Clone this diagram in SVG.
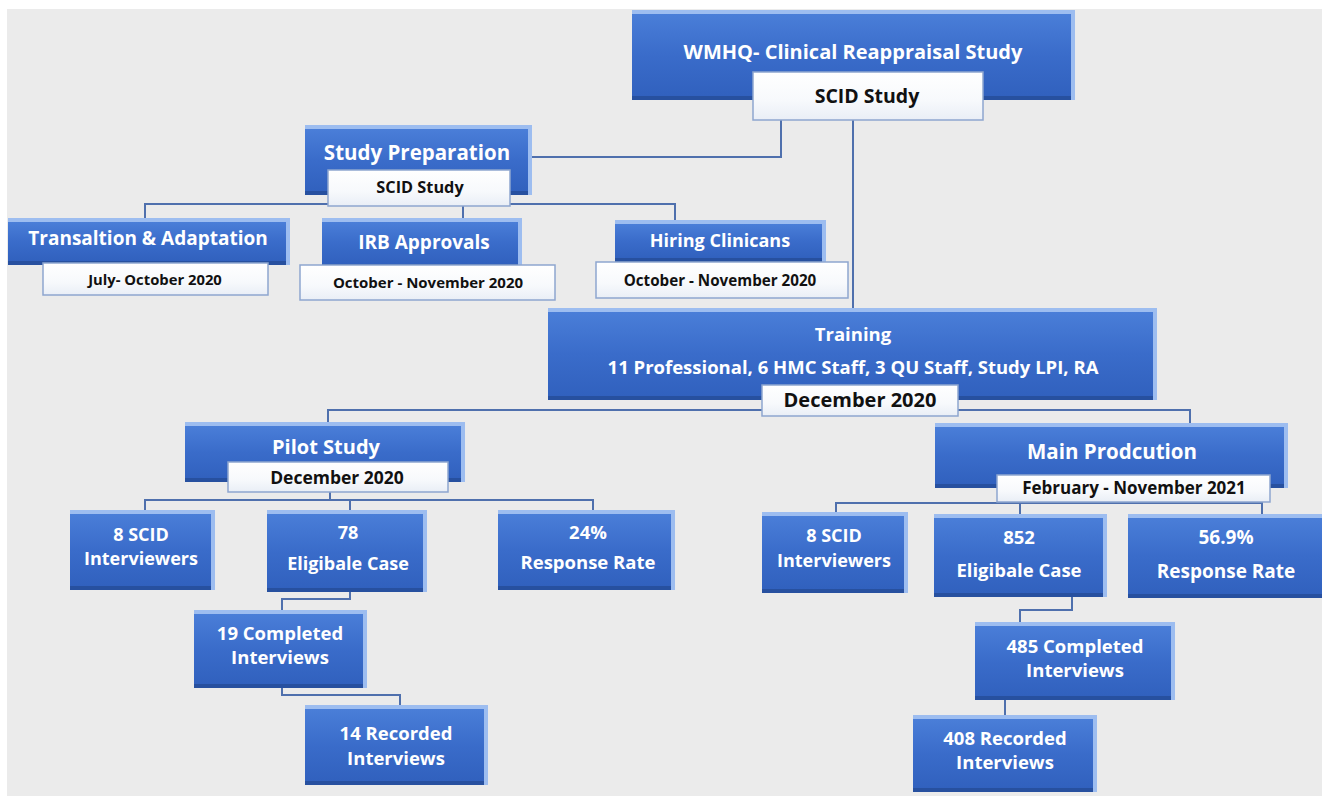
<svg xmlns="http://www.w3.org/2000/svg" width="1322" height="796" viewBox="0 0 1322 796">
<defs>
<linearGradient id="gb" x1="0" y1="0" x2="0" y2="1">
<stop offset="0" stop-color="#4a7ed8"/>
<stop offset="0.5" stop-color="#3a6cca"/>
<stop offset="1" stop-color="#3161be"/>
</linearGradient>
<linearGradient id="gw" x1="0" y1="0" x2="0" y2="1">
<stop offset="0" stop-color="#ffffff"/>
<stop offset="0.6" stop-color="#f7f9fc"/>
<stop offset="1" stop-color="#e9eef6"/>
</linearGradient>
<style>
.lt{fill:#9dbdf0}
.dk{fill:#27509f}
.mn{fill:url(#gb)}
.wb{fill:url(#gw);stroke:#8ea6cf;stroke-width:1.5}
.t{font-family:"Open Sans",Lato,"Liberation Sans",sans-serif;font-weight:700;fill:#ffffff;text-anchor:middle}
.d{font-family:"Open Sans",Lato,"Liberation Sans",sans-serif;font-weight:700;fill:#111111;text-anchor:middle}
.c{fill:none;stroke:#4f70ad;stroke-width:2}
</style>
</defs>
<rect x="0" y="0" width="1322" height="796" fill="#ffffff"/>
<rect x="7" y="9" width="1315" height="787" fill="#ebebeb"/>

<g id="connectors">
<path class="c" d="M532 157 H781 V120"/>
<path class="c" d="M853 120 V308"/>
<path class="c" d="M145 218 V204 H675 V220"/>
<path class="c" d="M463 204 V218"/>
<path class="c" d="M328 422 V410 H1190 V423"/>
<path class="c" d="M145 510 V500 H593 V510"/>
<path class="c" d="M350 500 V510"/>
<path class="c" d="M330 492 V500"/>
<path class="c" d="M350 592 V599 H282 V610"/>
<path class="c" d="M282 688 V695 H400 V705"/>
<path class="c" d="M836 512 V503 H1262 V514"/>
<path class="c" d="M1020 500 V514"/>
<path class="c" d="M1072 597 V610 H1020 V622"/>
<path class="c" d="M1005 700 V715"/>
</g>

<g id="wmhq">
<rect class="lt" x="632" y="10" width="443" height="90"/>
<rect class="dk" x="632" y="14" width="439" height="86"/>
<rect class="mn" x="632" y="14" width="439" height="82"/>
<text class="t" x="853" y="59" font-size="20">WMHQ- Clinical Reappraisal Study</text>
<rect class="wb" x="753" y="72" width="230" height="48"/>
<text class="d" x="867" y="103" font-size="19.5">SCID Study</text>
</g>

<g id="study-preparation">
<rect class="lt" x="305" y="125" width="227" height="70"/>
<rect class="dk" x="305" y="129" width="223" height="66"/>
<rect class="mn" x="305" y="129" width="223" height="62"/>
<text class="t" x="417" y="160" font-size="20.5">Study Preparation</text>
<rect class="wb" x="328" y="170" width="182" height="36"/>
<text class="d" x="420" y="193" font-size="16.3">SCID Study</text>
</g>

<g id="translation">
<rect class="lt" x="8" y="218" width="282" height="47"/>
<rect class="dk" x="8" y="222" width="278" height="43"/>
<rect class="mn" x="8" y="222" width="278" height="39"/>
<text class="t" x="148" y="245" font-size="19">Transaltion &amp; Adaptation</text>
<rect class="wb" x="43" y="263" width="225" height="32"/>
<text class="d" x="155" y="285" font-size="14.8">July- October 2020</text>
</g>

<g id="irb">
<rect class="lt" x="322" y="218" width="200" height="50"/>
<rect class="dk" x="322" y="222" width="196" height="46"/>
<rect class="mn" x="322" y="222" width="196" height="42"/>
<text class="t" x="424" y="249" font-size="19">IRB Approvals</text>
<rect class="wb" x="300" y="265" width="255" height="35"/>
<text class="d" x="428" y="288" font-size="15">October - November 2020</text>
</g>

<g id="hiring">
<rect class="lt" x="615" y="220" width="211" height="42"/>
<rect class="dk" x="615" y="224" width="207" height="38"/>
<rect class="mn" x="615" y="224" width="207" height="34"/>
<text class="t" x="720" y="247" font-size="18">Hiring Clinicans</text>
<rect class="wb" x="596" y="262" width="252" height="36"/>
<text class="d" x="720" y="286" font-size="15.2">October - November 2020</text>
</g>

<g id="training">
<rect class="lt" x="548" y="308" width="609" height="92"/>
<rect class="dk" x="548" y="312" width="605" height="88"/>
<rect class="mn" x="548" y="312" width="605" height="84"/>
<text class="t" x="853" y="341" font-size="18.5">Training</text>
<text class="t" x="853" y="374" font-size="18.5">11 Professional, 6 HMC Staff, 3 QU Staff, Study LPI, RA</text>
<rect class="wb" x="762" y="385" width="196" height="31"/>
<text class="d" x="860" y="407" font-size="20">December 2020</text>
</g>

<g id="pilot-study">
<rect class="lt" x="185" y="422" width="280" height="60"/>
<rect class="dk" x="185" y="426" width="276" height="56"/>
<rect class="mn" x="185" y="426" width="276" height="52"/>
<text class="t" x="326" y="454" font-size="20">Pilot Study</text>
<rect class="wb" x="228" y="462" width="220" height="30"/>
<text class="d" x="337" y="484" font-size="17.5">December 2020</text>
</g>

<g id="main-production">
<rect class="lt" x="935" y="423" width="353" height="65"/>
<rect class="dk" x="935" y="427" width="349" height="61"/>
<rect class="mn" x="935" y="427" width="349" height="57"/>
<text class="t" x="1112" y="459" font-size="20.5">Main Prodcution</text>
<rect class="wb" x="997" y="475" width="273" height="27"/>
<text class="d" x="1134" y="494" font-size="17">February - November 2021</text>
</g>

<g id="pilot-interviewers">
<rect class="lt" x="70" y="510" width="145" height="80"/>
<rect class="dk" x="70" y="514" width="141" height="76"/>
<rect class="mn" x="70" y="514" width="141" height="72"/>
<text class="t" x="141" y="541" font-size="18">8 SCID</text>
<text class="t" x="141" y="565" font-size="18">Interviewers</text>
</g>

<g id="pilot-eligible">
<rect class="lt" x="267" y="510" width="160" height="82"/>
<rect class="dk" x="267" y="514" width="156" height="78"/>
<rect class="mn" x="267" y="514" width="156" height="74"/>
<text class="t" x="348" y="539" font-size="18">78</text>
<text class="t" x="348" y="570" font-size="18">Eligibale Case</text>
</g>

<g id="pilot-response">
<rect class="lt" x="498" y="510" width="177" height="80"/>
<rect class="dk" x="498" y="514" width="173" height="76"/>
<rect class="mn" x="498" y="514" width="173" height="72"/>
<text class="t" x="588" y="539" font-size="18.5">24%</text>
<text class="t" x="588" y="569" font-size="18.5">Response Rate</text>
</g>

<g id="pilot-completed">
<rect class="lt" x="194" y="610" width="173" height="78"/>
<rect class="dk" x="194" y="614" width="169" height="74"/>
<rect class="mn" x="194" y="614" width="169" height="70"/>
<text class="t" x="280" y="640" font-size="18.5">19 Completed</text>
<text class="t" x="280" y="664" font-size="18.5">Interviews</text>
</g>

<g id="pilot-recorded">
<rect class="lt" x="305" y="705" width="183" height="80"/>
<rect class="dk" x="305" y="709" width="179" height="76"/>
<rect class="mn" x="305" y="709" width="179" height="72"/>
<text class="t" x="396" y="740" font-size="18.5">14 Recorded</text>
<text class="t" x="396" y="765" font-size="18.5">Interviews</text>
</g>

<g id="main-interviewers">
<rect class="lt" x="762" y="512" width="146" height="81"/>
<rect class="dk" x="762" y="516" width="142" height="77"/>
<rect class="mn" x="762" y="516" width="142" height="73"/>
<text class="t" x="834" y="542" font-size="18">8 SCID</text>
<text class="t" x="834" y="567" font-size="18">Interviewers</text>
</g>

<g id="main-eligible">
<rect class="lt" x="934" y="514" width="173" height="83"/>
<rect class="dk" x="934" y="518" width="169" height="79"/>
<rect class="mn" x="934" y="518" width="169" height="75"/>
<text class="t" x="1019" y="544" font-size="18.5">852</text>
<text class="t" x="1019" y="577" font-size="18.5">Eligibale Case</text>
</g>

<g id="main-response">
<rect class="lt" x="1128" y="514" width="200" height="84"/>
<rect class="dk" x="1128" y="518" width="196" height="80"/>
<rect class="mn" x="1128" y="518" width="196" height="76"/>
<text class="t" x="1226" y="544" font-size="19">56.9%</text>
<text class="t" x="1226" y="578" font-size="19">Response Rate</text>
</g>

<g id="main-completed">
<rect class="lt" x="975" y="622" width="200" height="78"/>
<rect class="dk" x="975" y="626" width="196" height="74"/>
<rect class="mn" x="975" y="626" width="196" height="70"/>
<text class="t" x="1075" y="653" font-size="18.5">485 Completed</text>
<text class="t" x="1075" y="677" font-size="18.5">Interviews</text>
</g>

<g id="main-recorded">
<rect class="lt" x="913" y="715" width="184" height="77"/>
<rect class="dk" x="913" y="719" width="180" height="73"/>
<rect class="mn" x="913" y="719" width="180" height="69"/>
<text class="t" x="1005" y="745" font-size="18.5">408 Recorded</text>
<text class="t" x="1005" y="769" font-size="18.5">Interviews</text>
</g>
</svg>
